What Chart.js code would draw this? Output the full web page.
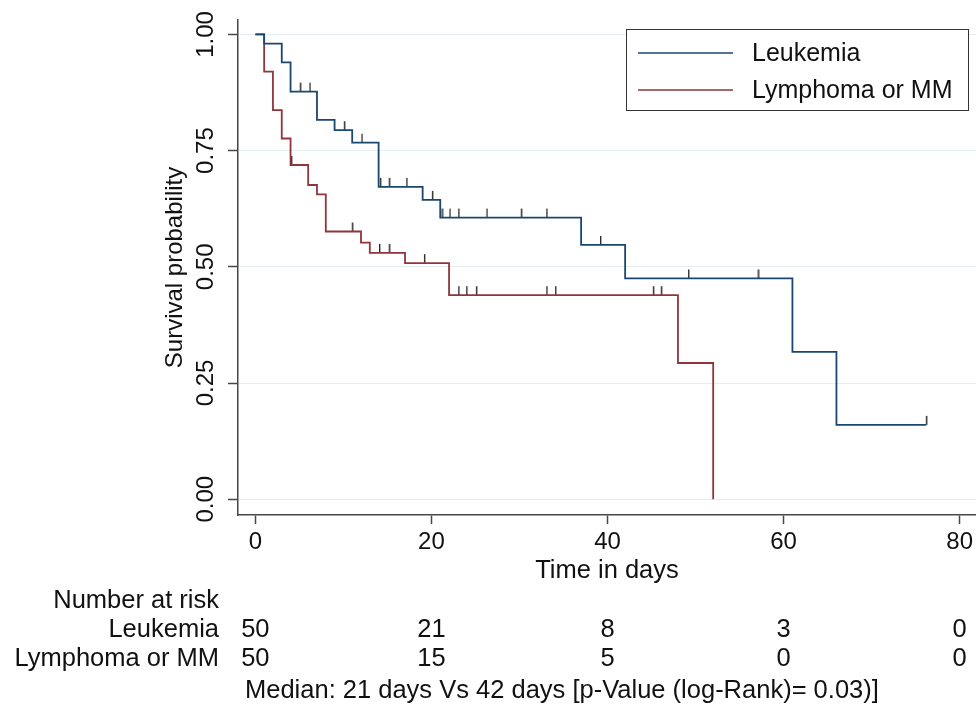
<!DOCTYPE html>
<html>
<head>
<meta charset="utf-8">
<script src="https://cdn.jsdelivr.net/npm/chart.js@4/dist/chart.umd.min.js"></script>
<style>
  body { margin: 0; background: #fff; }
  canvas { display: block; }
</style>
</head>
<body>
<canvas id="kmChart" width="976" height="709"></canvas>
<script>
// Kaplan-Meier steps (time in days, survival after that time)
const leukTimes = [0, 1, 3, 4, 7, 9, 11, 14, 19, 21, 37, 42, 61, 66, 76.2];
const leukSurv = [1.00, 0.98, 0.94, 0.877, 0.816, 0.794, 0.767, 0.672, 0.644, 0.606, 0.547, 0.475, 0.317, 0.160, 0.160];
const leukCensor = [5.1, 6.2, 10.1, 12.1, 14.2, 15.2, 17.2, 20.1, 21.2, 22.1, 23.1, 26.3, 30.2, 33.1, 39.2, 49.2, 57.1, 76.2];

const lymphTimes = [0, 1, 2, 3, 4, 6, 7, 8, 12, 13, 17, 22, 48, 52];
const lymphSurv = [1.00, 0.92, 0.837, 0.776, 0.719, 0.676, 0.656, 0.576, 0.552, 0.530, 0.508, 0.439, 0.293, 0];
const lymphCensor = [4.1, 11.0, 14.1, 15.2, 19.2, 23.1, 24.0, 25.1, 33.1, 34.1, 45.2, 46.1];

const groups = ['Leukemia', 'Lymphoma or MM'];
const xTicks = [0, 20, 40, 60, 80];
const yTicks = [0, 0.25, 0.5, 0.75, 1];

// number at risk table
const riskTimes = [0, 20, 40, 60, 80];
const riskLeuk = [50, 21, 8, 3, 0];
const riskLymph = [50, 15, 5, 0, 0];
const footNote = 'Median: 21 days Vs 42 days [p-Value (log-Rank)= 0.03)]';

const FONT = "'Liberation Sans', Arial, Helvetica, sans-serif";
const BLUE = '#1a476f';
const RED = '#90353b';

function toPoints(times, surv) {
    return times.map((t, i) => ({ x: t, y: surv[i] }));
}

// survival value of a step curve at time t
function survAt(times, surv, t) {
    let s = surv[0];
    for (let i = 0; i < times.length; i++) {
        if (times[i] <= t) s = surv[i];
    }
    return s;
}

function censorPoints(cens, times, surv) {
    return cens.map(t => ({ x: t, y: survAt(times, surv, t) }));
}

// small upward tick used as censor mark
function makeTick() {
    const c = document.createElement('canvas');
    c.width = 3;
    c.height = 20;
    const g = c.getContext('2d');
    g.fillStyle = '#2b2b2b';
    g.fillRect(1, 1, 1.4, 9);
    return c;
}
const tickMark = makeTick();

const legendBox = {
    id: 'legendBox',
    afterDatasetsDraw(chart) {
        const ctx = chart.ctx;
        const items = chart.data.datasets.filter(d => d.showLine);
        ctx.save();
        ctx.fillStyle = '#fff';
        ctx.fillRect(626.5, 29.5, 342, 81);
        ctx.strokeStyle = '#333';
        ctx.lineWidth = 1;
        ctx.strokeRect(626.5, 29.5, 342, 81);
        ctx.font = '25px ' + FONT;
        ctx.textBaseline = 'middle';
        ctx.textAlign = 'left';
        items.forEach((d, i) => {
            const y = 53 + i * 37;
            ctx.strokeStyle = d.borderColor;
            ctx.lineWidth = 1.6;
            ctx.beginPath();
            ctx.moveTo(638, y);
            ctx.lineTo(733, y);
            ctx.stroke();
            ctx.fillStyle = '#111';
            ctx.fillText(d.label, 752, y + 1);
        });
        ctx.restore();
    }
};

const riskTable = {
    id: 'riskTable',
    afterDraw(chart) {
        const ctx = chart.ctx;
        const x = chart.scales.x;
        ctx.save();
        ctx.font = '25.5px ' + FONT;
        ctx.fillStyle = '#111';
        ctx.textBaseline = 'alphabetic';
        ctx.textAlign = 'right';
        ctx.fillText('Number at risk', 219, 608);
        ctx.fillText(groups[0], 219, 637);
        ctx.fillText(groups[1], 219, 666);
        ctx.textAlign = 'center';
        riskTimes.forEach((t, i) => {
            const px = x.getPixelForValue(t);
            ctx.fillText(String(riskLeuk[i]), px, 637);
            ctx.fillText(String(riskLymph[i]), px, 666);
        });
        ctx.textAlign = 'left';
        ctx.fillText(footNote, 245, 698);
        ctx.restore();
    }
};

new Chart(document.getElementById('kmChart'), {
    type: 'scatter',
    data: {
        datasets: [
            {
                label: groups[0],
                data: toPoints(leukTimes, leukSurv),
                showLine: true,
                stepped: true,
                borderColor: BLUE,
                borderWidth: 1.8,
                pointRadius: 0
            },
            {
                label: groups[1],
                data: toPoints(lymphTimes, lymphSurv),
                showLine: true,
                stepped: true,
                borderColor: RED,
                borderWidth: 1.8,
                pointRadius: 0
            },
            {
                label: 'censor1',
                data: censorPoints(leukCensor, leukTimes, leukSurv),
                pointStyle: tickMark,
                pointRadius: 5
            },
            {
                label: 'censor2',
                data: censorPoints(lymphCensor, lymphTimes, lymphSurv),
                pointStyle: tickMark,
                pointRadius: 5
            }
        ]
    },
    options: {
        responsive: false,
        animation: false,
        layout: { autoPadding: false, padding: { left: 161, right: 0, top: 20, bottom: 123 } },
        plugins: {
            legend: { display: false },
            tooltip: { enabled: false }
        },
        scales: {
            x: {
                type: 'linear',
                min: -1.97,
                max: 81.85,
                afterFit: s => {
                    s.height = 71;
                    s.paddingLeft = 0;
                    s.paddingRight = 0;
                },
                afterBuildTicks: s => { s.ticks = xTicks.map(v => ({ value: v })); },
                border: { color: '#474747', width: 1.5 },
                grid: { drawOnChartArea: false, tickLength: 9, tickColor: '#474747', tickWidth: 1.5 },
                ticks: {
                    color: '#111',
                    padding: 4,
                    maxRotation: 0,
                    font: { family: FONT, size: 24 }
                },
                title: {
                    display: true,
                    text: 'Time in days',
                    color: '#111',
                    padding: 0,
                    font: { family: FONT, size: 25.5 }
                }
            },
            y: {
                min: -0.034,
                max: 1.031,
                afterFit: s => {
                    s.width = 77;
                    s.paddingTop = 0;
                    s.paddingBottom = 0;
                },
                afterBuildTicks: s => { s.ticks = yTicks.map(v => ({ value: v })); },
                border: { color: '#474747', width: 1.5 },
                grid: { color: '#e4eef0', lineWidth: 1, tickLength: 10, tickColor: '#474747', tickWidth: 1.5 },
                ticks: {
                    color: '#111',
                    padding: -2,
                    minRotation: 90,
                    maxRotation: 90,
                    crossAlign: 'center',
                    font: { family: FONT, size: 24 },
                    callback: v => Number(v).toFixed(2)
                },
                title: {
                    display: true,
                    text: 'Survival probability',
                    color: '#111',
                    padding: 0,
                    font: { family: FONT, size: 24 }
                }
            }
        }
    },
    plugins: [legendBox, riskTable]
});
</script>
</body>
</html>
